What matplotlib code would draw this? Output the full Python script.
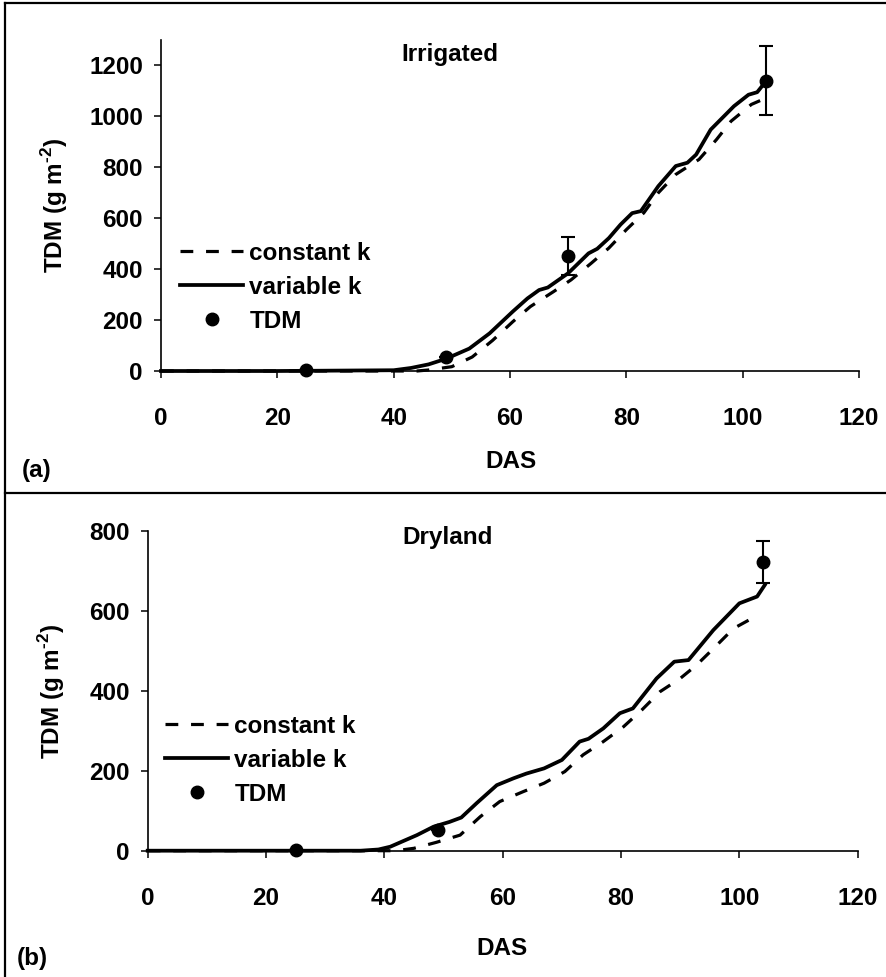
import matplotlib

matplotlib.use("Agg")
import matplotlib.pyplot as plt
from matplotlib.lines import Line2D

plt.rcParams["font.family"] = ["Liberation Sans", "DejaVu Sans"]
plt.rcParams["font.weight"] = "bold"
plt.rcParams["axes.labelweight"] = "bold"
plt.rcParams["font.size"] = 17.5
plt.rcParams["mathtext.fontset"] = "custom"
plt.rcParams["mathtext.rm"] = "Liberation Sans:bold"
plt.rcParams["mathtext.bf"] = "Liberation Sans:bold"

# --- (a) irrigated ---
das_var_a = [0, 20, 40, 43, 46, 49, 51, 53, 56.5, 60.5, 63, 65, 66.5, 70, 73.5, 75,
             77, 79, 81, 82.5, 85.5, 88.5, 90.5, 92, 94.5, 98.5, 101, 102.5, 104]
var_a = [0, 0, 3, 12, 26, 48, 68, 88, 148, 234, 285, 318, 328, 384, 462, 480,
         522, 575, 620, 628, 726, 805, 818, 850, 948, 1040, 1085, 1095, 1138]

das_const_a = [0, 20, 44, 46, 50, 53.5, 57, 60.5, 63.5, 67.5, 70.5, 74, 77, 80,
               83, 85.5, 88.5, 92.5, 95.5, 98, 101.5, 103]
const_a = [0, 0, 0, 4, 17, 55, 120, 194, 253, 312, 358, 424, 483, 555,
           621, 700, 772, 831, 909, 981, 1047, 1062]

obs_das_a = [25, 49, 70, 104]
obs_tdm_a = [5, 55, 453, 1140]
obs_err_a = [0, 0, 75, 136]

# --- (b) dryland ---
das_var_b = [0, 20, 36, 39, 41, 45.5, 48.3, 51, 53, 55.6, 59, 61.8, 64, 67, 70,
             73, 74.5, 77, 79.8, 82, 86, 89, 91.4, 95.6, 100, 103, 104.3]
var_b = [0, 0, 0, 3, 10, 39, 60, 72, 83, 119, 164, 181, 193, 206, 227,
         273, 280, 306, 344, 356, 431, 473, 477, 552, 619, 636, 665]

das_const_b = [0, 20, 42, 45, 48.8, 52.8, 56.2, 59.5, 63.5, 67, 70.5, 73.6, 77,
               80.4, 83.5, 86.6, 90, 92.8, 95.9, 99, 103.2]
const_b = [0, 0, 0, 6, 21, 39, 85, 123, 148, 169, 198, 240, 273,
           310, 352, 398, 431, 465, 510, 556, 590]

obs_das_b = [25, 49, 104]
obs_tdm_b = [3, 52, 722]
obs_err_b = [0, 0, 52]

W, H = 887, 977
YLABEL = r"TDM (g m$^{\text{-2}}$)"


def px_axes(fig, left, right, y0, ytop):
    # pixel box -> figure fraction
    return fig.add_axes([left / W, 1 - y0 / H, (right - left) / W, (y0 - ytop) / H])


def style(ax):
    for side in ("top", "right"):
        ax.spines[side].set_visible(False)
    for side in ("left", "bottom"):
        ax.spines[side].set_linewidth(1.2)
    ax.tick_params(axis="both", direction="out", length=5, width=1.1)
    ax.tick_params(axis="y", pad=8)
    ax.tick_params(axis="x", pad=21)
    ax.set_xlim(0, 120)
    ax.set_xticks(range(0, 121, 20))


def draw_panel(ax, das_c, const, das_v, var, obs_x, obs_y, obs_e):
    ax.plot(das_c, const, color="black", lw=2.3, dashes=(4, 4), clip_on=False, zorder=3)
    ax.plot(das_v, var, color="black", lw=2.7, clip_on=False, zorder=4)
    ax.errorbar(obs_x, obs_y, yerr=obs_e, fmt="o", color="black", ms=9,
                elinewidth=1.5, capsize=4.7, capthick=1.5, clip_on=False, zorder=5)


def add_legend(ax, x, y):
    handles = [
        Line2D([], [], color="black", lw=2.3, dashes=(4, 4)),
        Line2D([], [], color="black", lw=2.7),
        Line2D([], [], color="black", ls="none", marker="o", ms=9),
    ]
    ax.legend(handles, ["constant k", "variable k", "TDM"], loc="upper left",
              bbox_to_anchor=(x / W, 1 - y / H), bbox_transform=ax.figure.transFigure,
              frameon=False, borderpad=0, borderaxespad=0, handlelength=2.6,
              handletextpad=0.25, labelspacing=0.45)


fig = plt.figure(figsize=(W / 100, H / 100), dpi=100)

ax1 = px_axes(fig, 161, 859, 371, 40)
style(ax1)
ax1.set_ylim(0, 1300)
ax1.set_yticks(range(0, 1201, 200))
draw_panel(ax1, das_const_a, const_a, das_var_a, var_a, obs_das_a, obs_tdm_a, obs_err_a)
ax1.set_ylabel(YLABEL)
ax1.yaxis.set_label_coords(-0.13, 0.5)
ax1.set_xlabel("DAS")
ax1.xaxis.set_label_coords(0.501, -0.24)
ax1.text(0.414, 0.955, "Irrigated", transform=ax1.transAxes, ha="center", va="center")
add_legend(ax1, 180, 242)

ax2 = px_axes(fig, 147.7, 857.7, 850.7, 531)
style(ax2)
ax2.set_ylim(0, 800)
ax2.set_yticks(range(0, 801, 200))
draw_panel(ax2, das_const_b, const_b, das_var_b, var_b, obs_das_b, obs_tdm_b, obs_err_b)
ax2.set_ylabel(YLABEL)
ax2.yaxis.set_label_coords(-0.113, 0.5)
ax2.set_xlabel("DAS")
ax2.xaxis.set_label_coords(0.499, -0.27)
ax2.text(0.423, 0.981, "Dryland", transform=ax2.transAxes, ha="center", va="center")
add_legend(ax2, 165, 715)

fig.text(22 / W, 1 - 470 / H, "(a)", ha="left", va="center")
fig.text(17 / W, 1 - 958 / H, "(b)", ha="left", va="center")

# panel frame lines
frame = dict(color="black", lw=1.6, transform=fig.transFigure)
fig.add_artist(Line2D([5 / W, 5 / W], [0, 1 - 3 / H], **frame))
fig.add_artist(Line2D([5 / W, 1], [1 - 3 / H, 1 - 3 / H], **frame))
fig.add_artist(Line2D([5 / W, 1], [1 - 493 / H, 1 - 493 / H], **frame))

fig.savefig("out.png", dpi=100)
